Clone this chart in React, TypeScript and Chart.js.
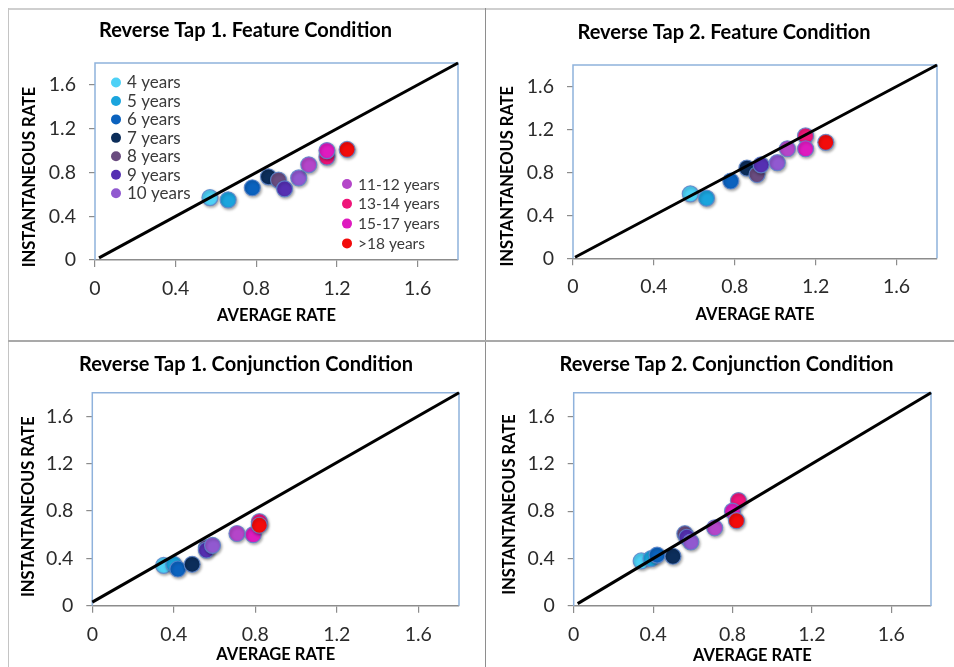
import React, { useEffect, useRef } from 'react';
import { Chart, registerables } from 'chart.js';

Chart.register(...registerables);

// ---------- data ----------
const AGE_GROUPS = ['4 years', '5 years', '6 years', '7 years', '8 years', '9 years', '10 years', '11-12 years', '13-14 years', '15-17 years', '>18 years'];
const AGE_COLORS = ['#4ED1F6', '#1AA4DD', '#0B62BE', '#0C2D5A', '#6A4C7F', '#5530B2', '#9159D0', '#B446C9', '#EF1579', '#DE1BBF', '#F20B0B'];

const TICK_VALUES = [0, 0.4, 0.8, 1.2, 1.6];
const AXIS_MIN = 0;
const AXIS_MAX = 1.8;

const FEAT1_AVG = [0.57, 0.66, 0.78, 0.86, 0.91, 0.94, 1.01, 1.06, 1.15, 1.15, 1.25];
const FEAT1_INST = [0.57, 0.55, 0.66, 0.76, 0.73, 0.65, 0.75, 0.87, 0.94, 1.0, 1.01];
const FEAT1_LINE_X = [0.02, 1.8];
const FEAT1_LINE_Y = [0.02, 1.8];

const FEAT2_AVG = [0.58, 0.66, 0.78, 0.86, 0.91, 0.93, 1.01, 1.06, 1.15, 1.15, 1.25];
const FEAT2_INST = [0.6, 0.56, 0.72, 0.84, 0.78, 0.87, 0.89, 1.02, 1.14, 1.02, 1.08];
const FEAT2_LINE_X = [0.01, 1.8];
const FEAT2_LINE_Y = [0.01, 1.8];

const CONJ1_AVG = [0.35, 0.4, 0.42, 0.49, 0.56, 0.56, 0.59, 0.71, 0.82, 0.79, 0.82];
const CONJ1_INST = [0.34, 0.35, 0.31, 0.35, 0.49, 0.47, 0.51, 0.61, 0.71, 0.6, 0.68];
const CONJ1_LINE_X = [0, 1.8];
const CONJ1_LINE_Y = [0.03, 1.8];

const CONJ2_AVG = [0.34, 0.39, 0.42, 0.5, 0.56, 0.57, 0.59, 0.71, 0.83, 0.8, 0.82];
const CONJ2_INST = [0.38, 0.4, 0.43, 0.42, 0.61, 0.58, 0.54, 0.66, 0.89, 0.8, 0.72];
const CONJ2_LINE_X = [0.02, 1.8];
const CONJ2_LINE_Y = [0.02, 1.8];

const TITLES = [
  'Reverse Tap 1. Feature Condition',
  'Reverse Tap 2. Feature Condition',
  'Reverse Tap 1. Conjunction Condition',
  'Reverse Tap 2. Conjunction Condition',
];
const X_TITLE = 'AVERAGE RATE';
const Y_TITLE = 'INSTANTANEOUS RATE';

// ---------- styles / layout ----------
const FONT = 'Lato, "Open Sans", "DejaVu Sans", sans-serif';
const FRAME_BLUE = '#8FB2DC';
const AXIS_GRAY = '#8C8C8C';

type Panel = {
  title: string;
  avg: number[];
  inst: number[];
  lineX: number[];
  lineY: number[];
  box: { left: number; top: number; w: number; h: number };
  plotLeft: number;
  plotTop: number;
  padRight: number;
  xAxisH: number;
  titleX: number;
  titleY: number;
  xTitleY: number;
  yTitleX: number;
  yTitleShift: number;
  legend: boolean;
};

const PANELS: Panel[] = [
  {
    title: TITLES[0], avg: FEAT1_AVG, inst: FEAT1_INST, lineX: FEAT1_LINE_X, lineY: FEAT1_LINE_Y,
    box: { left: 9, top: 10, w: 475, h: 330 },
    plotLeft: 86, plotTop: 53, padRight: 26, xAxisH: 80,
    titleX: 236.5, titleY: 21, xTitleY: 306, yTitleX: 21, yTitleShift: 15.5, legend: true,
  },
  {
    title: TITLES[1], avg: FEAT2_AVG, inst: FEAT2_INST, lineX: FEAT2_LINE_X, lineY: FEAT2_LINE_Y,
    box: { left: 487, top: 11, w: 467, h: 329 },
    plotLeft: 86, plotTop: 54, padRight: 17, xAxisH: 81.7,
    titleX: 237, titleY: 21.3, xTitleY: 304, yTitleX: 20.7, yTitleShift: 14.6, legend: false,
  },
  {
    title: TITLES[2], avg: CONJ1_AVG, inst: CONJ1_INST, lineX: CONJ1_LINE_X, lineY: CONJ1_LINE_Y,
    box: { left: 9, top: 343, w: 475, h: 324 },
    plotLeft: 83.3, plotTop: 49.7, padRight: 25, xAxisH: 61.3,
    titleX: 237, titleY: 21.3, xTitleY: 312, yTitleX: 19.3, yTitleShift: 7.5, legend: false,
  },
  {
    title: TITLES[3], avg: CONJ2_AVG, inst: CONJ2_INST, lineX: CONJ2_LINE_X, lineY: CONJ2_LINE_Y,
    box: { left: 487, top: 343, w: 467, h: 324 },
    plotLeft: 86.7, plotTop: 49.7, padRight: 23, xAxisH: 61,
    titleX: 239.5, titleY: 21.3, xTitleY: 313, yTitleX: 23, yTitleShift: 5.2, legend: false,
  },
];

const pointShadow = {
  id: 'pointShadow',
  beforeDatasetDraw(chart: any, args: any) {
    if (chart.data.datasets[args.index].type === 'line') return;
    const ctx = chart.ctx;
    ctx.save();
    ctx.shadowColor = 'rgba(0,0,0,0.35)';
    ctx.shadowBlur = 3;
    ctx.shadowOffsetX = 1;
    ctx.shadowOffsetY = 1.5;
  },
  afterDatasetDraw(chart: any, args: any) {
    if (chart.data.datasets[args.index].type === 'line') return;
    chart.ctx.restore();
  },
};

const panelDecor = {
  id: 'panelDecor',
  beforeDatasetsDraw(chart: any) {
    const { ctx, chartArea: ca } = chart;
    ctx.save();
    ctx.strokeStyle = FRAME_BLUE;
    ctx.lineWidth = 1.5;
    ctx.beginPath();
    ctx.moveTo(ca.left, ca.bottom);
    ctx.lineTo(ca.left, ca.top);
    ctx.lineTo(ca.right, ca.top);
    ctx.lineTo(ca.right, ca.bottom);
    ctx.stroke();
    ctx.restore();
  },
  afterDraw(chart: any, _args: any, opts: any) {
    const { ctx, chartArea: ca } = chart;
    ctx.save();
    ctx.fillStyle = '#000';
    ctx.textAlign = 'center';
    ctx.textBaseline = 'middle';
    ctx.font = `bold 20px ${FONT}`;
    ctx.fillText(opts.title, opts.titleX, opts.titleY);
    ctx.font = `bold 16.5px ${FONT}`;
    ctx.fillText(X_TITLE, (ca.left + ca.right) / 2, opts.xTitleY);
    ctx.save();
    ctx.translate(opts.yTitleX, (ca.top + ca.bottom) / 2 + opts.yTitleShift);
    ctx.rotate(-Math.PI / 2);
    ctx.fillText(Y_TITLE, 0, 0);
    ctx.restore();

    if (opts.legend) {
      ctx.textAlign = 'left';
      const drawItem = (i: number, mx: number, y: number, size: number) => {
        ctx.beginPath();
        ctx.arc(mx, y, 5, 0, Math.PI * 2);
        ctx.fillStyle = AGE_COLORS[i];
        ctx.fill();
        ctx.fillStyle = '#3A3A3A';
        ctx.font = `${size}px ${FONT}`;
        ctx.fillText(AGE_GROUPS[i], mx + 11, y + 0.5);
      };
      for (let i = 0; i < 7; i++) drawItem(i, ca.left + 21, ca.top + 19.5 + i * 18.45, 17);
      for (let i = 7; i < 11; i++) drawItem(i, ca.left + 252, ca.top + 121 + (i - 7) * 19.8, 15.5);
    }
    ctx.restore();
  },
};

function ScatterPanel({ panel }: { panel: Panel }) {
  const ref = useRef<HTMLCanvasElement | null>(null);
  useEffect(() => {
    if (!ref.current) return;
    const datasets: any[] = AGE_GROUPS.map((label, i) => ({
      type: 'scatter',
      label,
      data: [{ x: panel.avg[i], y: panel.inst[i] }],
      backgroundColor: AGE_COLORS[i],
      borderColor: 'rgba(95,135,205,0.85)',
      borderWidth: 1.2,
      pointRadius: 8,
      order: 11 - i,
    }));
    datasets.push({
      type: 'line',
      label: 'line',
      data: panel.lineX.map((x, i) => ({ x, y: panel.lineY[i] })),
      borderColor: '#000',
      borderWidth: 3,
      pointRadius: 0,
      showLine: true,
      fill: false,
      order: 0,
      clip: 3,
    });
    const tickFont = { family: FONT, size: 19.5 };
    const setTicks = (scale: any) => {
      scale.ticks = TICK_VALUES.map((v) => ({ value: v }));
    };
    const chart = new Chart(ref.current, {
      type: 'scatter',
      data: { datasets },
      plugins: [pointShadow, panelDecor],
      options: {
        responsive: false,
        animation: false,
        devicePixelRatio: 1,
        layout: { padding: { left: 0, top: panel.plotTop, right: panel.padRight, bottom: 0 } },
        plugins: {
          legend: { display: false },
          tooltip: { enabled: false },
          title: { display: false },
          panelDecor: {
            title: panel.title,
            titleX: panel.titleX,
            titleY: panel.titleY,
            xTitleY: panel.xTitleY,
            yTitleX: panel.yTitleX,
            yTitleShift: panel.yTitleShift,
            legend: panel.legend,
          },
        } as any,
        scales: {
          x: {
            type: 'linear',
            min: AXIS_MIN,
            max: AXIS_MAX,
            afterBuildTicks: setTicks,
            afterFit: (scale: any) => { scale.height = panel.xAxisH; },
            grid: { drawOnChartArea: false, drawTicks: true, tickLength: 7, color: AXIS_GRAY, lineWidth: 1.2 },
            border: { display: true, color: AXIS_GRAY, width: 1.5 },
            ticks: { font: tickFont, color: '#2B2B2B', padding: 10, maxRotation: 0, callback: (v: any) => String(v) },
            title: { display: false },
          },
          y: {
            type: 'linear',
            min: AXIS_MIN,
            max: AXIS_MAX,
            afterBuildTicks: setTicks,
            afterFit: (scale: any) => { scale.width = panel.plotLeft; },
            grid: { drawOnChartArea: false, drawTicks: true, tickLength: 6, color: AXIS_GRAY, lineWidth: 1.2 },
            border: { display: false },
            ticks: { font: tickFont, color: '#2B2B2B', padding: 13, callback: (v: any) => String(v) },
            title: { display: false },
          },
        },
      } as any,
    });
    return () => chart.destroy();
  }, [panel]);
  const { left, top, w, h } = panel.box;
  return (
    <canvas
      ref={ref}
      width={w}
      height={h}
      style={{ position: 'absolute', left, top, width: w, height: h }}
    />
  );
}

export default function App() {
  return (
    <div style={{ position: 'fixed', left: 0, top: 0, width: 954, height: 667, background: '#fff', overflow: 'hidden' }}>
      <div style={{ position: 'absolute', left: 8, top: 8, width: 946, height: 1.5, background: '#CFCFCF' }} />
      <div style={{ position: 'absolute', left: 7.5, top: 8, width: 1.5, height: 659, background: '#C4C4C4' }} />
      <div style={{ position: 'absolute', left: 484.5, top: 8, width: 1.5, height: 659, background: '#8E8E8E' }} />
      <div style={{ position: 'absolute', left: 8, top: 340, width: 946, height: 2, background: '#A9A9A9' }} />
      {PANELS.map((p, i) => (
        <ScatterPanel key={i} panel={p} />
      ))}
    </div>
  );
}
